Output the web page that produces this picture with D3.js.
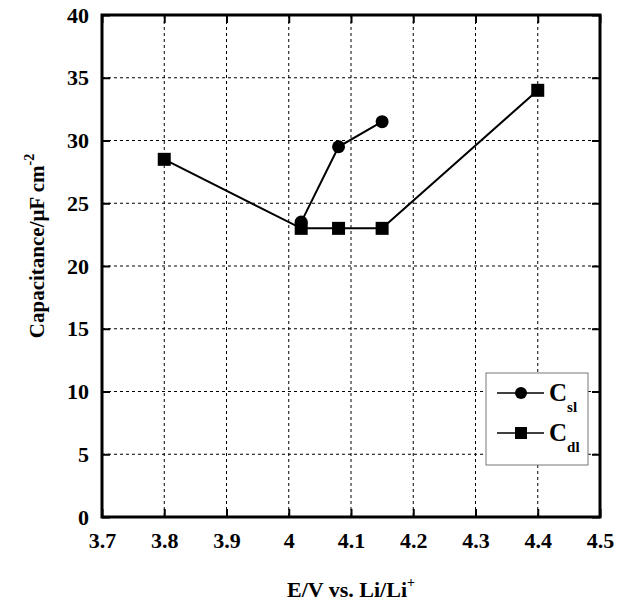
<!DOCTYPE html>
<html>
<head>
<meta charset="utf-8">
<script src="https://cdn.jsdelivr.net/npm/d3@7"></script>
<style>
  body { margin: 0; background: #fff; }
</style>
</head>
<body>
<svg width="622" height="606" font-family="Liberation Serif, Times New Roman, serif" font-weight="bold"></svg>
<script>
const svg = d3.select('svg');
const serif = 'Liberation Serif, Times New Roman, serif';

// data
const cslE = [4.02, 4.08, 4.15];
const cslC = [23.5, 29.5, 31.5];
const cdlE = [3.8, 4.02, 4.08, 4.15, 4.4];
const cdlC = [28.5, 23, 23, 23, 34];
const xTicks = [3.7, 3.8, 3.9, 4, 4.1, 4.2, 4.3, 4.4, 4.5];
const yTicks = [0, 5, 10, 15, 20, 25, 30, 35, 40];

const pL = 102, pR = 600, pT = 15, pB = 517;

const x = d3.scaleLinear().domain([3.7, 4.5]).range([pL, pR]);
const y = d3.scaleLinear().domain([0, 40]).range([pB, pT]);

// grid
svg.append('g').selectAll('line').data(xTicks.slice(1, -1))
  .enter().append('line')
    .attr('x1', d => x(d)).attr('x2', d => x(d))
    .attr('y1', pT).attr('y2', pB)
    .attr('stroke', '#000').attr('stroke-width', 1)
    .attr('stroke-dasharray', '3,3');
svg.append('g').selectAll('line').data(yTicks.slice(1, -1))
  .enter().append('line')
    .attr('x1', pL).attr('x2', pR)
    .attr('y1', d => y(d)).attr('y2', d => y(d))
    .attr('stroke', '#000').attr('stroke-width', 1)
    .attr('stroke-dasharray', '3,3');

// axes with inner ticks
const fmtX = d => d === 4 ? '4' : d3.format('.1f')(d);
const ax = [
  [d3.axisBottom(x).tickValues(xTicks).tickSize(-8).tickPadding(15).tickFormat(fmtX), `translate(0,${pB})`],
  [d3.axisTop(x).tickValues(xTicks).tickSize(-8).tickFormat(''), `translate(0,${pT})`],
  [d3.axisLeft(y).tickValues(yTicks).tickSize(-8).tickPadding(13), `translate(${pL},0)`],
  [d3.axisRight(y).tickValues(yTicks).tickSize(-8).tickFormat(''), `translate(${pR},0)`]
];
ax.forEach(([a, t]) => {
  const g = svg.append('g').attr('transform', t).call(a)
    .attr('font-family', serif).attr('font-size', 22).attr('font-weight', 'bold');
  g.select('.domain').remove();
  g.selectAll('.tick line').attr('stroke-width', 2);
  g.selectAll('text').attr('fill', '#000');
});

// frame
svg.append('rect')
  .attr('x', pL).attr('y', pT)
  .attr('width', pR - pL).attr('height', pB - pT)
  .attr('fill', 'none').attr('stroke', '#000').attr('stroke-width', 3);

// series
const line = d3.line().x(d => x(d[0])).y(d => y(d[1]));
const cdl = cdlE.map((e, i) => [e, cdlC[i]]);
const csl = cslE.map((e, i) => [e, cslC[i]]);

svg.append('path').datum(cdl).attr('d', line)
  .attr('fill', 'none').attr('stroke', '#000').attr('stroke-width', 2);
svg.append('path').datum(csl).attr('d', line)
  .attr('fill', 'none').attr('stroke', '#000').attr('stroke-width', 2);

svg.selectAll('rect.sq').data(cdl)
  .enter().append('rect').attr('class', 'sq')
    .attr('x', d => x(d[0]) - 6.5).attr('y', d => y(d[1]) - 6.5)
    .attr('width', 13).attr('height', 13).attr('fill', '#000');
svg.selectAll('circle.ci').data(csl)
  .enter().append('circle').attr('class', 'ci')
    .attr('cx', d => x(d[0])).attr('cy', d => y(d[1]))
    .attr('r', 6.5).attr('fill', '#000');

// legend
const lg = svg.append('g');
lg.append('rect').attr('x', 486).attr('y', 373).attr('width', 102).attr('height', 92)
  .attr('fill', '#fff').attr('stroke', '#777').attr('stroke-width', 1);
const items = [{sub: 'sl', shape: 'circle', cy: 393}, {sub: 'dl', shape: 'square', cy: 433}];
items.forEach(it => {
  lg.append('line').attr('x1', 497).attr('x2', 544).attr('y1', it.cy).attr('y2', it.cy)
    .attr('stroke', '#000').attr('stroke-width', 1.5);
  if (it.shape === 'circle') {
    lg.append('circle').attr('cx', 521).attr('cy', it.cy).attr('r', 6).attr('fill', '#000');
  } else {
    lg.append('rect').attr('x', 515).attr('y', it.cy - 6).attr('width', 12).attr('height', 12).attr('fill', '#000');
  }
  const t = lg.append('text').attr('x', 549).attr('y', it.cy + 8).attr('font-size', 25);
  t.append('tspan').text('C');
  t.append('tspan').attr('font-size', 15).attr('dy', 11).text(it.sub);
});

// axis titles
const xt = svg.append('text').attr('x', 351).attr('y', 597)
  .attr('text-anchor', 'middle').attr('font-size', 22);
xt.append('tspan').text('E/V vs. Li/Li');
xt.append('tspan').attr('font-size', 14).attr('dy', -10).text('+');

const yt = svg.append('text').attr('transform', 'translate(44,246) rotate(-90)')
  .attr('text-anchor', 'middle').attr('font-size', 21);
yt.append('tspan').text('Capacitance/\u03bcF cm');
yt.append('tspan').attr('font-size', 14).attr('dy', -10).text('-2');
</script>
</body>
</html>
